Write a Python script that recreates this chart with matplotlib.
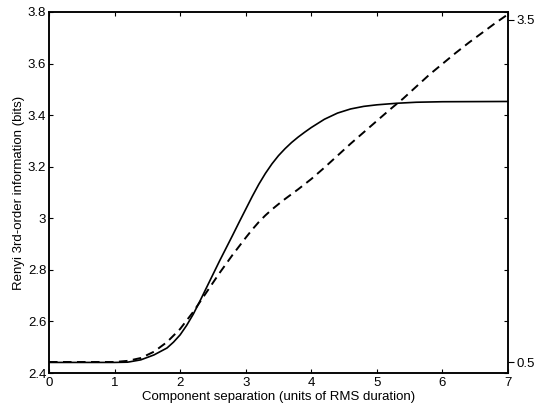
import matplotlib
matplotlib.use('Agg')
import matplotlib.pyplot as plt

plt.rcParams['font.family'] = ['Liberation Sans', 'DejaVu Sans']

### values
# solid line, left axis (bits)
sep_solid = [0, 0.5, 1.0, 1.2, 1.4, 1.6, 1.8, 1.9, 2.0, 2.1, 2.2, 2.3, 2.4,
             2.5, 2.6, 2.7, 2.8, 2.9, 3.0, 3.1, 3.2, 3.3, 3.4, 3.5, 3.6, 3.7,
             3.8, 3.9, 4.0, 4.2, 4.4, 4.6, 4.8, 5.0, 5.3, 5.6, 6.0, 7.0]
info_solid = [2.441, 2.441, 2.441, 2.442, 2.451, 2.47, 2.497, 2.52, 2.548,
              2.585, 2.628, 2.678, 2.73, 2.782, 2.834, 2.884, 2.934, 2.985,
              3.035, 3.085, 3.132, 3.174, 3.211, 3.243, 3.27, 3.294, 3.315,
              3.334, 3.352, 3.384, 3.408, 3.424, 3.434, 3.44, 3.446, 3.45,
              3.452, 3.453]
# dashed line, right axis
sep_dashed = [0, 0.5, 1.0, 1.2, 1.4, 1.6, 1.8, 2.0, 2.2, 2.4, 2.6, 2.7, 2.8,
              2.9, 3.0, 3.1, 3.2, 3.3, 3.4, 3.5, 3.6, 3.8, 4.0, 4.2, 4.4, 4.6,
              4.8, 5.0, 5.2, 5.4, 5.6, 5.8, 6.0, 6.2, 6.4, 6.6, 6.8, 7.0]
info_dashed = [0.5, 0.5, 0.5, 0.51, 0.535, 0.59, 0.675, 0.79, 0.94, 1.11,
               1.28, 1.36, 1.44, 1.515, 1.59, 1.662, 1.728, 1.786, 1.838,
               1.885, 1.93, 2.015, 2.105, 2.205, 2.31, 2.415, 2.515, 2.615,
               2.715, 2.81, 2.915, 3.02, 3.115, 3.21, 3.30, 3.385, 3.47, 3.55]

left_ticks = [2.4, 2.6, 2.8, 3.0, 3.2, 3.4, 3.6, 3.8]
left_labels = ['2.4', '2.6', '2.8', '3', '3.2', '3.4', '3.6', '3.8']
right_ticks = [0.5, 3.5]
x_ticks = [0, 1, 2, 3, 4, 5, 6, 7]

fig = plt.figure(figsize=(5.39, 4.15), dpi=100)
ax = fig.add_axes([0.0909, 0.1012, 0.8516, 0.8699])
ax2 = ax.twinx()

ax.plot(sep_solid, info_solid, color='black', lw=1.2)
ax2.plot(sep_dashed, info_dashed, color='black', lw=1.4, dashes=(4.4, 2.8))

ax.set_xlim(0, 7)
ax.set_ylim(2.4, 3.8)
ax2.set_ylim(0.4035, 3.570)

ax.set_xticks(x_ticks)
ax.set_yticks(left_ticks)
ax.set_yticklabels(left_labels)
ax.tick_params(direction='in', top=True, right=True, length=3, width=0.8,
               labelsize=9.5, pad=2)
ax.tick_params(axis='x', pad=3)
ax2.set_yticks(right_ticks)
ax2.set_yticklabels(['0.5', '3.5'])
ax2.tick_params(direction='out', length=4, width=0.8, labelsize=9.5, pad=2)

for a in (ax, ax2):
    for s in a.spines.values():
        s.set_linewidth(1.1)

ax.set_xlabel('Component separation (units of RMS duration)', fontsize=9.5,
              labelpad=1)
ax.set_ylabel('Renyi 3rd-order information (bits)', fontsize=9.5, labelpad=2)

plt.savefig('out.png', dpi=100)
